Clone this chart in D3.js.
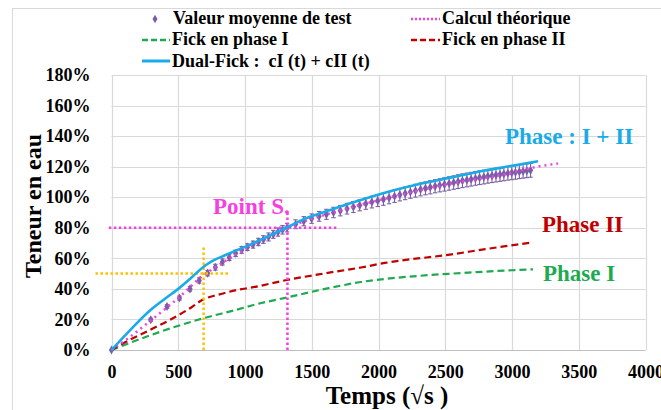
<!DOCTYPE html>
<html>
<head>
<meta charset="utf-8">
<script src="https://d3js.org/d3.v7.min.js"></script>
<style>
  body { margin: 0; background: #fff; }
  text { font-family: "Liberation Serif", "Times New Roman", serif; font-weight: bold; }
</style>
</head>
<body>
<div id="my_dataviz"></div>
<script>

// ---- data (temps en racine de s, teneur en eau en %) ----
var testT = [0,294,416,509,588,657,720,778,831,882,930,975,1018,1060,1100,1138,1176,1212,1247,1281,1315,
  1379,1440,1499,1555,1610,1663,1714,1764,1812,1859,1905,1950,1994,2037,2079,2120,2160,2200,2239,2277,
  2315,2352,2388,2424,2459,2494,2529,2563,2596,2629,2662,2694,2726,2757,2789,2819,2850,2880,2910,2939,
  2969,2998,3026,3055,3083,3111,3139]
var testV = [0,19.8,28.5,34,40,45.5,50.3,54.2,57.6,60.6,63.3,65.5,67.3,69,70.7,72.3,74,75.7,77.2,78.7,80.1,
  82.3,84.3,86,87.5,88.8,90,91.2,92.5,93.6,94.7,95.8,96.8,97.7,98.6,99.6,100.6,101.6,102.5,103.4,104.3,
  105.1,105.8,106.5,107.2,107.8,108.4,109,109.6,110.2,110.8,111.3,111.8,112.3,112.8,113.2,113.7,114.1,114.5,114.9,115.3,
  115.7,116,116.3,116.7,117,117.3,117.6]
var testErr = [0,1,1.2,1.3,1.5,1.7,1.8,1.9,2,2,2.1,2.2,2.2,2.3,2.4,2.5,2.6,2.6,2.7,2.8,2.8,
  2.9,3,3.1,3.2,3.3,3.4,3.4,3.5,3.6,3.6,3.7,3.8,3.8,3.9,3.9,4,4,4.1,4.1,4.2,
  4.2,4.2,4.3,4.3,4.3,4.4,4.4,4.4,4.5,4.5,4.5,4.5,4.5,4.5,4.5,4.5,4.5,4.5,4.5,4.5,
  4.5,4.5,4.5,4.5,4.5,4.5,4.5]

var theoT = [0,140,290,500,690,785,1000,1318,1638,2048,2548,3000,3160,3345]
var theoV = [0,8.7,19,34,49,54.5,66,80,89.5,99,109,116,119.5,122]

var fick1T = [0,88,435,685,947,1043,1320,1600,1868,2048,2300,2550,2800,3000,3157]
var fick1V = [0,3,14,20.7,26.6,29,34.5,40,44.5,46.5,48.5,50,51.3,52.2,52.8]

var fick2T = [0,88,250,435,600,685,800,963,1038,1313,1600,1868,2048,2547,2800,3134]
var fick2V = [0,4.4,11.5,19.6,28,33,36.2,39.7,40.7,45.8,50.2,54,57,62.6,66,70.2]

var dualT = [0,140,290,400,500,600,690,760,850,935,1040,1200,1321,1450,1638,1788,2048,2300,2548,2800,3000,3195]
var dualV = [0,13,26,33.5,40,47.5,54.5,58.5,62,65.2,69,75.5,80.5,86,91.6,96,103,108.5,113,117.5,120.5,123.5]

var xTicks = [0,500,1000,1500,2000,2500,3000,3500,4000]
var yTicks = [0,20,40,60,80,100,120,140,160,180]

// repères en pointillés : point à 50 % et point S
var orangeH = [[-120,50],[880,50]]
var orangeV = [[690,0],[690,68.7]]
var pinkH = [[-20,80],[1685,80]]
var pinkV = [[1318,0],[1318,91.5]]

// ---- couleurs ----
var cTest = "#7b5ea7", cTheo = "#f53fe0", cF1 = "#1faa52", cF2 = "#c00000", cDual = "#18abe8", cOrange = "#ffc000"

var width = 661, height = 410

var svg = d3.select("#my_dataviz")
  .append("svg")
    .attr("width", width)
    .attr("height", height)

// cadre du graphique
svg.append("rect")
  .attr("x", 12.5).attr("y", 8.5)
  .attr("width", 700).attr("height", 500)
  .attr("fill", "none").attr("stroke", "#d9d9d9")

var x = d3.scaleLinear().domain([0, 4000]).range([111.5, 645.5])
var y = d3.scaleLinear().domain([0, 180]).range([350, 75])

// grille
svg.append("g").selectAll("line").data(yTicks).enter().append("line")
  .attr("x1", x(0)).attr("x2", x(4000))
  .attr("y1", function(d){ return Math.round(y(d)) + 0.5 })
  .attr("y2", function(d){ return Math.round(y(d)) + 0.5 })
  .attr("stroke", function(d){ return d == 0 ? "#bfbfbf" : "#d9d9d9" })
  .attr("stroke-width", 1.2)
svg.append("g").selectAll("line").data(xTicks).enter().append("line")
  .attr("y1", y(0)).attr("y2", y(180))
  .attr("x1", function(d){ return Math.round(x(d)) + 0.5 })
  .attr("x2", function(d){ return Math.round(x(d)) + 0.5 })
  .attr("stroke", "#d9d9d9")
  .attr("stroke-width", 1.2)

// axes (labels only, Excel style)
var yAxis = svg.append("g")
  .attr("transform", "translate(" + (x(0) - 18) + ",0)")
  .call(d3.axisLeft(y).tickValues(yTicks).tickSize(0).tickFormat(function(d){ return d + "%" }))
yAxis.select(".domain").remove()
yAxis.selectAll("text").attr("font-size", 18).attr("fill", "#000")
  .style("font-family", "Liberation Serif").style("font-weight", "bold")

var xAxis = svg.append("g")
  .attr("transform", "translate(0," + (y(0) + 12) + ")")
  .call(d3.axisBottom(x).tickValues(xTicks).tickSize(0).tickFormat(d3.format("d")))
xAxis.select(".domain").remove()
xAxis.selectAll("text").attr("font-size", 18).attr("fill", "#000")
  .style("font-family", "Liberation Serif").style("font-weight", "bold")

svg.append("text")
  .attr("transform", "translate(41,206) rotate(-90)")
  .attr("text-anchor", "middle")
  .attr("font-size", 24)
  .text("Teneur en eau")
svg.append("text")
  .attr("x", 387).attr("y", 404)
  .attr("text-anchor", "middle")
  .attr("font-size", 25)
  .text("Temps (√s )")

var line = d3.line()
  .x(function(d){ return x(d[0]) })
  .y(function(d){ return y(d[1]) })
  .curve(d3.curveMonotoneX)

function pairs(ts, vs) { return ts.map(function(t, i){ return [t, vs[i]] }) }

// Fick phase I / II
svg.append("path").datum(pairs(fick1T, fick1V))
  .attr("d", line).attr("fill", "none")
  .attr("stroke", cF1).attr("stroke-width", 2.2).attr("stroke-dasharray", "7,4")
svg.append("path").datum(pairs(fick2T, fick2V))
  .attr("d", line).attr("fill", "none")
  .attr("stroke", cF2).attr("stroke-width", 2.2).attr("stroke-dasharray", "7,4")

// valeurs de test avec barres d'erreur
var test = pairs(testT, testV)
var eb = svg.append("g").attr("stroke", cTest).attr("stroke-width", 1.1)
test.forEach(function(d, i) {
  var e = testErr[i]
  if (!e) return
  var cx = x(d[0])
  eb.append("line").attr("x1", cx).attr("x2", cx).attr("y1", y(d[1] - e)).attr("y2", y(d[1] + e))
  eb.append("line").attr("x1", cx - 2.2).attr("x2", cx + 2.2).attr("y1", y(d[1] - e)).attr("y2", y(d[1] - e))
  eb.append("line").attr("x1", cx - 2.2).attr("x2", cx + 2.2).attr("y1", y(d[1] + e)).attr("y2", y(d[1] + e))
})
svg.append("g").selectAll("path").data(test).enter().append("path")
  .attr("d", d3.symbol().type(d3.symbolDiamond).size(24))
  .attr("transform", function(d){ return "translate(" + x(d[0]) + "," + y(d[1]) + ")" })
  .attr("fill", cTest)

// calcul théorique
svg.append("path").datum(pairs(theoT, theoV))
  .attr("d", line).attr("fill", "none")
  .attr("stroke", cTheo).attr("stroke-width", 2.5).attr("stroke-dasharray", "2,4")

// repères
var straight = d3.line().x(function(d){ return x(d[0]) }).y(function(d){ return y(d[1]) })
;[orangeH, orangeV].forEach(function(p) {
  svg.append("path").attr("d", straight(p)).attr("fill", "none")
    .attr("stroke", cOrange).attr("stroke-width", 2.5).attr("stroke-dasharray", "2.5,2.5")
})
;[pinkH, pinkV].forEach(function(p) {
  svg.append("path").attr("d", straight(p)).attr("fill", "none")
    .attr("stroke", cTheo).attr("stroke-width", 2.5).attr("stroke-dasharray", "2.5,2.5")
})

// dual-Fick
svg.append("path").datum(pairs(dualT, dualV))
  .attr("d", line).attr("fill", "none")
  .attr("stroke", cDual).attr("stroke-width", 2.6)

// annotations
svg.append("text").attr("x", 213).attr("y", 214).attr("font-size", 23).attr("fill", cTheo).text("Point S.")
svg.append("text").attr("x", 505).attr("y", 144).attr("font-size", 23).attr("fill", cDual).text("Phase : I + II")
svg.append("text").attr("x", 542).attr("y", 232).attr("font-size", 23).attr("fill", cF2).text("Phase II")
svg.append("text").attr("x", 543).attr("y", 281).attr("font-size", 23).attr("fill", cF1).text("Phase I")

// légende
var leg = svg.append("g")
leg.append("path").attr("d", d3.symbol().type(d3.symbolDiamond).size(22)())
  .attr("transform", "translate(155,19)").attr("fill", cTest)
leg.append("text").attr("x", 173).attr("y", 24).attr("font-size", 18).text("Valeur moyenne de test")
leg.append("line").attr("x1", 411).attr("x2", 440).attr("y1", 19).attr("y2", 19)
  .attr("stroke", cTheo).attr("stroke-width", 2.5).attr("stroke-dasharray", "2,2")
leg.append("text").attr("x", 442).attr("y", 24).attr("font-size", 18).text("Calcul théorique")
leg.append("line").attr("x1", 142).attr("x2", 170).attr("y1", 40).attr("y2", 40)
  .attr("stroke", cF1).attr("stroke-width", 2.5).attr("stroke-dasharray", "6,3")
leg.append("text").attr("x", 172).attr("y", 45).attr("font-size", 18).text("Fick en phase I")
leg.append("line").attr("x1", 411).attr("x2", 440).attr("y1", 40).attr("y2", 40)
  .attr("stroke", cF2).attr("stroke-width", 2.5).attr("stroke-dasharray", "6,3")
leg.append("text").attr("x", 442).attr("y", 45).attr("font-size", 18).text("Fick en phase II")
leg.append("line").attr("x1", 142).attr("x2", 170).attr("y1", 61).attr("y2", 61)
  .attr("stroke", cDual).attr("stroke-width", 3)
leg.append("text").attr("x", 172).attr("y", 67).attr("font-size", 18).attr("xml:space", "preserve")
  .text("Dual-Fick :  cI (t) + cII (t)")

</script>
</body>
</html>
